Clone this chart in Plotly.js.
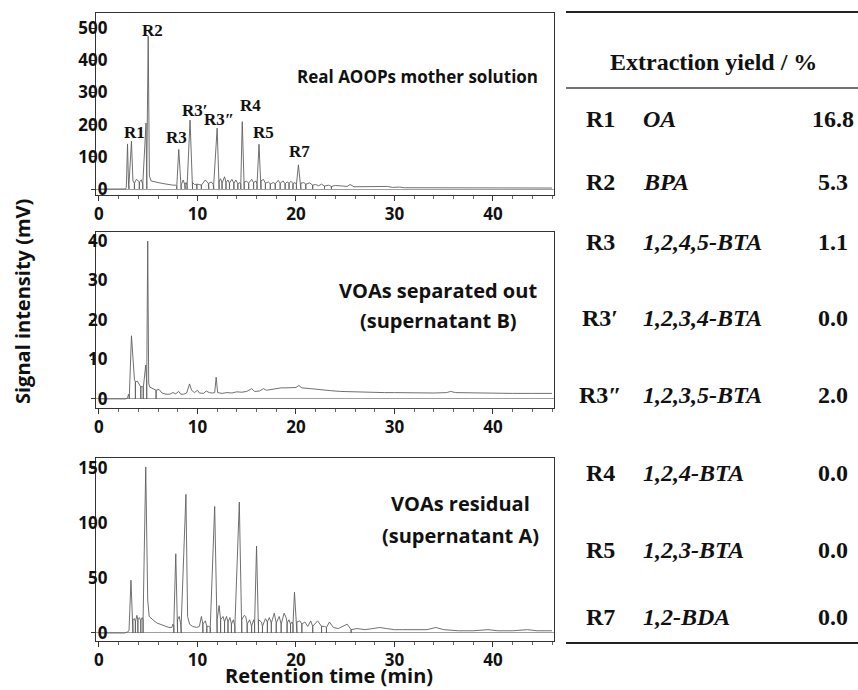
<!DOCTYPE html>
<html>
<head>
<meta charset="utf-8">
<script src="https://cdn.plot.ly/plotly-3.0.1.min.js"></script>
<style>html,body{margin:0;padding:0;background:#fff;}#chart{width:858px;height:690px;}</style>
</head>
<body>
<div id="chart"></div>
<script>
// ---------- Chromatogram data (retention time in min, signal in mV) ----------
// Panel 1: Real AOOPs mother solution
const mother_t = [0,2.7,2.78,2.9,3.0,3.05,3.05,3.3,3.45,3.6,3.6,3.6,3.8,4.0,4.1,4.1,4.1,4.3,4.45,4.45,4.45,4.78,4.86,4.86,4.86,5.0,5.12,5.3,5.6,6.0,6.5,7.0,7.5,7.8,7.9,7.9,7.9,8.1,8.3,8.35,8.35,8.55,8.7,8.75,8.75,8.85,8.95,8.95,8.95,9.25,9.45,9.5,9.5,9.7,9.9,9.95,9.95,10.2,10.4,10.4,10.4,10.8,11.1,11.15,11.15,11.4,11.6,11.65,11.65,12.0,12.15,12.2,12.2,12.35,12.5,12.5,12.5,12.75,12.9,12.9,12.9,13.1,13.25,13.25,13.25,13.5,13.7,13.7,13.7,13.9,14.1,14.1,14.1,14.3,14.4,14.4,14.4,14.55,14.7,14.75,14.75,15.0,15.2,15.2,15.2,15.5,15.7,15.7,15.7,15.95,16.05,16.05,16.05,16.25,16.4,16.45,16.45,16.7,16.9,16.9,16.9,17.2,17.4,17.4,17.4,17.7,17.9,17.9,17.9,18.2,18.4,18.4,18.4,18.7,18.9,18.9,18.9,19.1,19.3,19.3,19.3,19.5,19.7,19.7,19.7,19.9,20.05,20.05,20.05,20.25,20.45,20.5,20.5,20.8,21.0,21.0,21.0,21.4,21.7,21.7,21.7,22.0,22.3,22.6,22.9,22.9,22.9,23.3,23.6,23.6,23.6,24.0,24.4,24.8,25.2,25.5,25.9,26.3,26.8,27.3,27.8,28.3,28.8,29.3,29.8,30.5,31,32,33,33.8,34.5,35.5,36.5,38,39.5,41,42.5,44,46];
const mother_v = [0,0,5,140,15,0,15,148,25,18,0,18,30,25,22,0,22,28,15,0,15,205,60,0,60,475,40,25,22,20,17,14,12,12,8,0,8,123,12,0,12,28,15,0,15,20,10,0,10,214,20,0,20,14,15,0,15,14,12,0,12,28,18,0,18,22,14,0,14,189,25,0,25,32,18,0,18,38,20,0,20,28,18,0,18,30,18,0,18,28,16,0,16,20,14,0,14,209,22,0,22,24,18,0,18,30,20,0,20,25,14,0,14,139,25,0,25,30,18,0,18,22,16,0,16,20,16,0,16,27,18,0,18,25,16,0,16,22,18,0,18,24,17,0,17,20,14,0,14,75,18,0,18,20,15,0,15,19,12,0,12,14,10,15,9,0,9,12,8,0,8,11,9,9,8,14,7,7,6,7,6,8,6,8,5,6,4,4,4,5,4,4,3,3,4,3,3,4,3];

// Panel 2: VOAs separated out (supernatant B)
const sepB_t = [0,2.7,2.9,3.0,3.08,3.08,3.08,3.3,3.45,3.6,3.7,3.7,3.7,3.9,4.1,4.25,4.25,4.25,4.4,4.5,4.5,4.5,4.75,4.85,4.85,4.85,4.95,5.05,5.15,5.5,5.8,5.8,5.8,6.1,6.4,6.8,7.2,7.5,7.8,8.1,8.3,8.6,8.9,9.2,9.4,9.7,10.0,10.2,10.6,10.9,11.2,11.5,11.75,11.9,12.05,12.5,13,13.5,14,14.5,15.0,15.5,15.8,16.3,16.7,17.0,17.5,18,18.5,19,19.5,20.0,20.3,20.6,21.5,22.5,23.5,24.5,25.5,27,28,29,30,32,34,35.3,35.7,36.2,38,40,42,44,46];
const sepB_v = [0,0,0.2,1.2,0.5,0,0.5,16,9,5,4.3,0,4.3,4.5,3.5,3.0,0,3.0,3.2,2.8,0,2.8,8.6,4,0,4,40,4,3,2.5,2.2,0,2.2,2.4,1.5,1.2,1.2,1.6,1.3,1.9,1.2,1.2,1.5,3.8,2.2,1.6,2.2,1.5,1.4,2.0,1.6,1.5,1.6,5.5,1.6,1.4,1.6,1.5,1.8,1.7,1.9,2.6,1.9,2.0,2.6,2.2,2.4,2.6,2.8,2.8,2.8,2.9,3.4,2.8,2.6,2.3,2.1,1.9,1.8,1.7,1.7,1.6,1.6,1.5,1.5,1.6,1.9,1.6,1.5,1.4,1.4,1.4,1.4];

// Panel 3: VOAs residual (supernatant A)
const resA_t = [0,2.6,2.9,3.05,3.25,3.38,3.45,3.45,3.45,3.6,3.7,3.7,3.7,3.85,3.95,3.95,3.95,4.1,4.25,4.25,4.25,4.38,4.48,4.48,4.48,4.75,4.95,5.1,5.3,5.6,5.9,6.2,6.5,6.8,7.1,7.4,7.5,7.6,7.6,7.6,7.8,7.98,7.98,7.98,8.15,8.3,8.35,8.35,8.83,9.0,9.2,9.5,9.9,10.2,10.4,10.55,10.55,10.55,10.8,10.95,10.95,10.95,11.15,11.3,11.3,11.3,11.75,11.95,12.0,12.0,12.2,12.35,12.35,12.35,12.6,12.75,12.75,12.75,12.95,13.1,13.1,13.1,13.3,13.45,13.45,13.45,13.65,13.8,13.8,13.8,14.25,14.45,14.5,14.5,14.75,14.9,15.05,15.05,15.05,15.3,15.5,15.5,15.5,15.7,15.8,15.8,15.8,16.0,16.15,16.2,16.2,16.5,16.6,16.6,16.6,16.9,17.1,17.1,17.1,17.3,17.5,17.5,17.5,17.8,18.0,18.0,18.0,18.3,18.5,18.5,18.5,18.8,19.0,19.1,19.1,19.1,19.3,19.45,19.45,19.45,19.6,19.7,19.7,19.7,19.85,20.05,20.1,20.1,20.4,20.6,20.6,20.6,20.9,21.2,21.5,21.7,21.7,21.7,22.2,22.6,22.6,22.6,22.9,23.1,23.1,23.1,23.4,23.8,24.3,24.8,25.2,25.6,25.6,25.6,26.2,27,27.8,28.5,29.2,30,30.8,32,33.3,34.2,35,36.5,38,39.5,40.5,42,43.5,44.5,46];
const resA_v = [0,0,1,2,48,20,12,0,12,13,10,0,10,16,12,0,12,14,11,0,11,14,12,0,12,151,30,15,13,11,9,8,7,6,5,5,8,7,0,7,72,12,0,12,15,8,0,8,126,15,8,6,5,6,15,8,0,8,11,6,0,6,6,5,0,5,115,12,0,12,25,12,0,12,15,10,0,10,15,10,0,10,14,8,0,8,12,6,0,6,119,12,0,12,16,15,8,0,8,12,6,0,6,12,8,0,8,79,12,0,12,10,6,0,6,13,10,0,10,14,9,0,9,18,9,0,9,15,8,0,8,18,14,9,0,9,12,8,0,8,10,8,0,8,37,10,0,10,11,8,0,8,10,6,11,6,0,6,11,6,0,6,6,5,0,5,10,5,4,6,8,3,0,3,4,3,4,5,4,3,3,3,3,5,3,2,2,3,2,2,3,2,2];

// Peak labels in panel 1 (label, retention time, mV)
const peakLabels = ["R1","R2","R3","R3\u2032","R3\u2033","R4","R5","R7"];
const peakLabelT = [3.65,5.4,7.9,9.75,12.2,15.4,16.75,20.4];
const peakLabelV = [174,491,161,245,217,258,174,115];

// Extraction yield table
const tableIds = ["R1","R2","R3","R3\u2032","R3\u2033","R4","R5","R7"];
const tableCompounds = ["OA","BPA","1,2,4,5-BTA","1,2,3,4-BTA","1,2,3,5-BTA","1,2,4-BTA","1,2,3-BTA","1,2-BDA"];
const tableYields = ["16.8","5.3","1.1","0.0","2.0","0.0","0.0","0.0"];

// ---------- Layout helpers ----------
const W = 858, H = 690;
const px = x => x / W;
const py = y => 1 - y / H;
const rowY = [119,182,242,318,395,473,550,617];

const lineStyle = {color:'#606060', width:0.9};
const traces = [
  {x:mother_t, y:mother_v, xaxis:'x', yaxis:'y', type:'scatter', mode:'lines', line:lineStyle, hoverinfo:'skip'},
  {x:sepB_t, y:sepB_v, xaxis:'x2', yaxis:'y2', type:'scatter', mode:'lines', line:lineStyle, hoverinfo:'skip'},
  {x:resA_t, y:resA_v, xaxis:'x3', yaxis:'y3', type:'scatter', mode:'lines', line:lineStyle, hoverinfo:'skip'}
];

const tickFont = {family:'Open Sans, sans-serif', size:17, color:'#111', weight:'bold'};
function xax(anchor){
  return {domain:[px(96), px(554)], anchor:anchor, range:[-0.3,46.2], showgrid:false, zeroline:false,
    showline:true, mirror:true, linecolor:'#333', linewidth:1.2,
    ticks:'outside', ticklen:5, tickwidth:1, tickcolor:'#333', dtick:10, tick0:0,
    minor:{dtick:2, ticklen:3, tickcolor:'#666', ticks:'outside'},
    ticklabelstandoff:-2,
    tickfont:tickFont, fixedrange:true};
}
function yax(anchor, top, bottom, range, dtick){
  return {domain:[py(bottom), py(top)], anchor:anchor, range:range, showgrid:false,
    zeroline:true, zerolinecolor:'#a0a0a0', zerolinewidth:1,
    showline:true, mirror:true, linecolor:'#333', linewidth:1.2,
    ticks:'outside', ticklen:4, tickwidth:1, tickcolor:'#333', dtick:dtick, tick0:0,
    ticklabelstandoff:-20,
    tickfont:tickFont, fixedrange:true};
}
// overlay axes carrying only the minor y ticks
function yminor(over, anchor, top, bottom, range, mdtick){
  return {domain:[py(bottom), py(top)], overlaying:over, anchor:anchor, range:range, showgrid:false,
    zeroline:false, showline:false, showticklabels:false,
    ticks:'outside', ticklen:2, tickwidth:1, tickcolor:'#777', dtick:mdtick, tick0:0, fixedrange:true};
}

const annotations = [];
for (let i = 0; i < peakLabels.length; i++) {
  annotations.push({xref:'x', yref:'y', x:peakLabelT[i], y:peakLabelV[i], text:peakLabels[i], showarrow:false,
    xanchor:'center', yanchor:'middle',
    font:{family:'Liberation Serif, Times New Roman, serif', size:17, color:'#111', weight:'bold'}});
}
const panelFont = {family:'Open Sans, sans-serif', size:17, color:'#111', weight:'bold'};
const panelFont2 = {family:'Open Sans, sans-serif', size:20, color:'#111', weight:'bold'};
annotations.push({xref:'paper', yref:'paper', x:px(417), y:py(77), text:'Real AOOPs mother solution', showarrow:false, xanchor:'center', yanchor:'middle', font:panelFont});
annotations.push({xref:'paper', yref:'paper', x:px(438), y:py(290), text:'VOAs separated out', showarrow:false, xanchor:'center', yanchor:'middle', font:panelFont2});
annotations.push({xref:'paper', yref:'paper', x:px(438), y:py(320), text:'(supernatant B)', showarrow:false, xanchor:'center', yanchor:'middle', font:panelFont2});
annotations.push({xref:'paper', yref:'paper', x:px(460), y:py(503), text:'VOAs residual', showarrow:false, xanchor:'center', yanchor:'middle', font:panelFont2});
annotations.push({xref:'paper', yref:'paper', x:px(460), y:py(535), text:'(supernatant A)', showarrow:false, xanchor:'center', yanchor:'middle', font:panelFont2});
annotations.push({xref:'paper', yref:'paper', x:px(329), y:py(690), text:'Retention time (min)', showarrow:false, xanchor:'center', yanchor:'bottom', borderpad:0,
  font:{family:'Open Sans, sans-serif', size:20, color:'#111', weight:'bold'}});
annotations.push({xref:'paper', yref:'paper', x:px(22), y:py(302), text:'Signal intensity (mV)', showarrow:false, textangle:-90, xanchor:'center', yanchor:'middle',
  font:{family:'Open Sans, sans-serif', size:20, color:'#111', weight:'bold'}});

// table
const serif = 'Liberation Serif, Times New Roman, serif';
annotations.push({xref:'paper', yref:'paper', x:px(713), y:py(62), text:'Extraction yield / %', showarrow:false, xanchor:'center', yanchor:'middle',
  font:{family:serif, size:24, color:'#111', weight:'bold'}});
for (let i = 0; i < tableIds.length; i++) {
  annotations.push({xref:'paper', yref:'paper', x:px(600), y:py(rowY[i]), text:tableIds[i], showarrow:false, xanchor:'center', yanchor:'middle',
    font:{family:serif, size:24, color:'#111', weight:'bold'}});
  annotations.push({xref:'paper', yref:'paper', x:px(641), y:py(rowY[i]), text:'<i>'+tableCompounds[i]+'</i>', showarrow:false, xanchor:'left', yanchor:'middle',
    font:{family:serif, size:24, color:'#111', weight:'bold'}});
  annotations.push({xref:'paper', yref:'paper', x:px(833), y:py(rowY[i]), text:tableYields[i], showarrow:false, xanchor:'center', yanchor:'middle',
    font:{family:serif, size:24, color:'#111', weight:'bold'}});
}

const shapes = [
  {type:'line', xref:'paper', yref:'paper', x0:px(566), x1:px(858), y0:py(12), y1:py(12), line:{color:'#222', width:2.2}},
  {type:'line', xref:'paper', yref:'paper', x0:px(566), x1:px(858), y0:py(88), y1:py(88), line:{color:'#444', width:1.4}},
  {type:'line', xref:'paper', yref:'paper', x0:px(566), x1:px(858), y0:py(643), y1:py(643), line:{color:'#222', width:2.2}}
];

const r1 = [-18.6, 546.6], r2 = [-2.3, 42.3], r3 = [-7.3, 159.1];
const layout = {
  width:W, height:H, margin:{l:0,r:0,t:0,b:0}, paper_bgcolor:'#fff', plot_bgcolor:'#fff', showlegend:false,
  xaxis: xax('y'), xaxis2: xax('y2'), xaxis3: xax('y3'),
  yaxis: yax('x', 13, 195, r1, 100),
  yaxis2: yax('x2', 232, 408, r2, 10),
  yaxis3: yax('x3', 458, 641, r3, 50),
  yaxis4: yminor('y', 'x', 13, 195, r1, 20),
  yaxis5: yminor('y2', 'x2', 232, 408, r2, 2),
  yaxis6: yminor('y3', 'x3', 458, 641, r3, 10),
  annotations: annotations, shapes: shapes
};

Plotly.newPlot('chart', traces, layout, {displayModeBar:false, staticPlot:true});
</script>
</body>
</html>
